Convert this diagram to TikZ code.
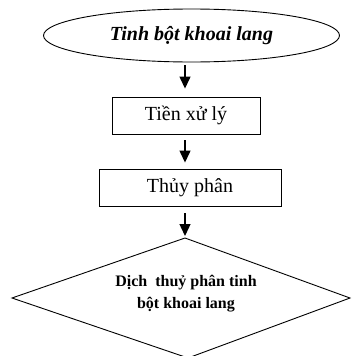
\documentclass[tikz,border=0pt]{standalone}
\usepackage{fontspec}
\setmainfont{Liberation Serif}
\usetikzlibrary{shapes.geometric,arrows.meta}

\tikzset{
  flowline/.style={line width=0.9pt, draw=black},
  stepbox/.style={flowline, rectangle, inner sep=0pt, font=\fontsize{20}{24}\selectfont},
  startnode/.style={flowline, ellipse, inner sep=0pt,
    font=\fontsize{20}{24}\selectfont\bfseries\itshape},
  flowarrow/.style={line width=1.3pt, -{Triangle[length=12pt,width=11pt]}},
  decisiontext/.style={align=center, inner sep=0pt,
    font=\fontsize{16}{22}\selectfont\bfseries}
}

\begin{document}
\begin{tikzpicture}[x=1pt, y=-1pt]
  \useasboundingbox (0,0) rectangle (351,356);
  \clip (0,0) rectangle (351,356);

  % vertical axis the arrows run along
  \coordinate (axis) at (185,0);

  % start: raw material
  \node[startnode, minimum width=296pt, minimum height=53pt] (start) at (191.5,35.5)
    {Tinh bột khoai lang};

  % process steps
  \node[stepbox, minimum width=148pt, minimum height=37pt] (pre) at (186,115.5)
    {Tiền xử lý};
  \node[stepbox, minimum width=182pt, minimum height=37pt] (hyd) at (190,187.5)
    {Thủy phân};

  % result: decision-shaped outline
  \coordinate (dtop) at (185,238);
  \coordinate (dleft) at (12,298);
  \coordinate (dright) at (350,298);
  \coordinate (dbottom) at (188,358);
  \draw[flowline, line join=miter] (dtop) -- (dright) -- (dbottom) -- (dleft) -- cycle;
  \node[decisiontext] (res) at (186,294)
    {Dịch\ \ thuỷ phân tinh\\bột khoai lang};

  % connectors
  \draw[flowarrow, shorten <=3pt, shorten >=8pt] (axis |- start.south) -- (axis |- pre.north);
  \draw[flowarrow, shorten <=6pt, shorten >=6pt] (axis |- pre.south) -- (axis |- hyd.north);
  \draw[flowarrow, shorten <=7pt, shorten >=2pt] (axis |- hyd.south) -- (dtop);
\end{tikzpicture}
\end{document}
